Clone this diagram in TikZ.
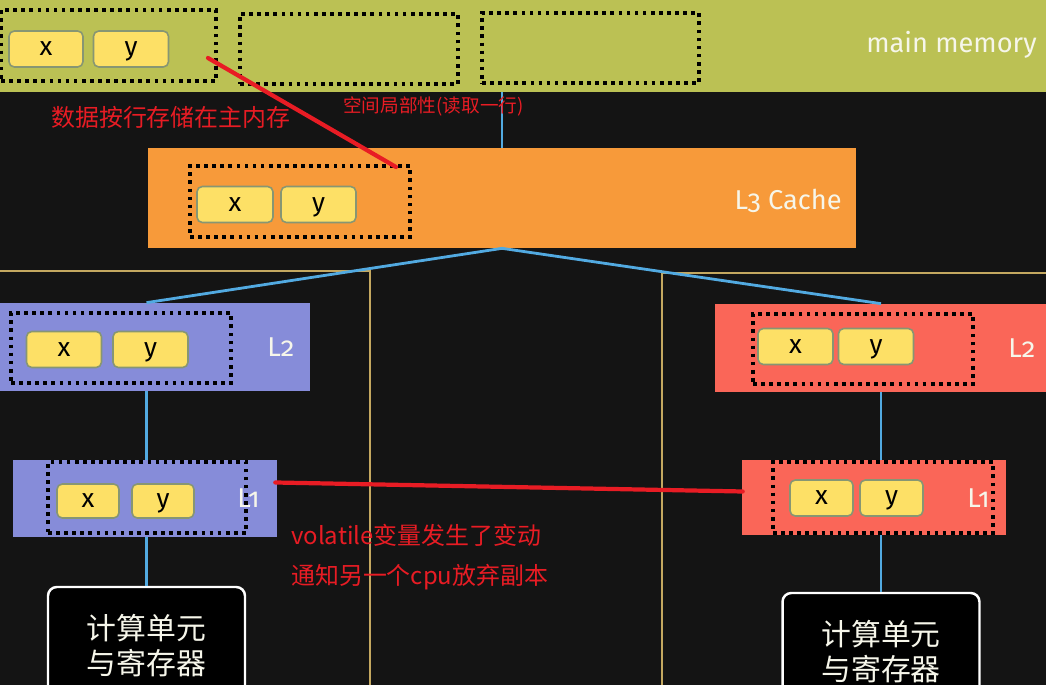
\documentclass[tikz,border=0pt]{standalone}
\usepackage{fontspec}
\setsansfont{Fira Sans}[Numbers=OldStyle]
\newfontfamily\cjk{Noto Sans CJK SC}
\usepackage{tikz}
\usetikzlibrary{positioning, calc}
\definecolor{board}{RGB}{20,20,20}
\definecolor{memgreen}{RGB}{187,193,84}
\definecolor{l3orange}{RGB}{247,154,58}
\definecolor{cpublue}{RGB}{134,140,217}
\definecolor{cpured}{RGB}{250,102,88}
\definecolor{cellfill}{RGB}{253,224,102}
\definecolor{celledge}{RGB}{135,150,115}
\definecolor{wireblue}{RGB}{82,170,225}
\definecolor{divgold}{RGB}{196,168,96}
\definecolor{notered}{RGB}{232,28,36}
\definecolor{labelwhite}{RGB}{246,246,234}

\begin{document}
\begin{tikzpicture}[
  x=0.02cm, y=-0.02cm,
  cachebox/.style={rectangle, inner sep=0pt},
  rowbox/.style={rectangle, draw=black, line width=2.1pt, dash pattern=on 2.1pt off 2.5pt, inner sep=0pt, minimum width=44mm, minimum height=14mm},
  cell/.style={rectangle, draw=celledge, line width=0.9pt, fill=cellfill, rounded corners=3pt, inner sep=0pt, minimum width=15mm, minimum height=7.2mm, text height=0.9em, text depth=0.14em, font=\sffamily\fontsize{15}{18}\selectfont, text=black},
  tag/.style={text=labelwhite, font=\sffamily\fontsize{15.5}{18}\selectfont, inner sep=0pt},
  core/.style={rectangle, draw=white, line width=1.4pt, rounded corners=5pt, fill=black, minimum width=39.4mm, minimum height=23.6mm, align=center, text=labelwhite, font=\cjk\fontsize{17}{20}\selectfont},
  wire/.style={draw=wireblue, line width=1.6pt},
  divider/.style={draw=divgold, line width=1pt},
  redline/.style={draw=notered, line width=2.4pt, line cap=round},
  note/.style={text=notered, font=\cjk\fontsize{13.6}{16}\selectfont, inner sep=0pt, anchor=west},
]
\clip (0,0) rectangle (1046,685);
\fill[board] (0,0) rectangle (1046,685);

\draw[divider] (0,271) -- (370,271) -- (370,690);
\draw[divider] (1046,273) -- (662,273) -- (662,690);

\node[cachebox, fill=memgreen, minimum width=209.2mm, minimum height=18.4mm] (mem) at (523,46) {};
\node[tag, anchor=base east] (memlabel) at (1037,53) {main memory};
\node[rowbox, minimum width=43mm, minimum height=14.2mm] (row1) at (108.5,45.5) {};
\node[rowbox, minimum width=43.6mm] (row2) at (349,49) {};
\node[rowbox, minimum width=43.4mm] (row3) at (590.5,48) {};
\node[cell, minimum width=14.8mm] (memx) at (46,49) {x};
\node[cell] (memy) at (131,49) {y};

\node[cachebox, fill=l3orange, minimum width=141.6mm, minimum height=20mm] (l3) at (502,198) {};
\node[tag, anchor=base east] (l3label) at (842,210) {L3 Cache};
\node[rowbox, minimum height=14.2mm] (l3row) at (300,201.5) {};
\node[cell, minimum width=15.2mm] (l3x) at (235,204.5) {x};
\node[cell] (l3y) at (318.5,204.5) {y};

\node[cachebox, fill=cpublue, minimum width=62mm, minimum height=17.6mm] (l2a) at (155,347) {};
\node[tag, anchor=base west] (l2alabel) at (267,357) {L2};
\node[rowbox] (l2arow) at (121,348) {};
\node[cell] (l2ax) at (64,349.5) {x};
\node[cell] (l2ay) at (150.5,349.5) {y};

\node[cachebox, fill=cpublue, minimum width=52.8mm, minimum height=15.4mm] (l1a) at (145,498.5) {};
\node[tag, anchor=base west] (l1alabel) at (237,508) {L1};
\node[rowbox, minimum width=39.6mm, minimum height=14.2mm] (l1arow) at (147,497.5) {};
\node[cell, minimum width=12.4mm, minimum height=6.8mm] (l1ax) at (88,501) {x};
\node[cell, minimum width=12.4mm, minimum height=6.8mm] (l1ay) at (163,501) {y};

\node[cachebox, fill=cpured, minimum width=66.2mm, minimum height=17.6mm] (l2b) at (880.5,348) {};
\node[tag, anchor=base west] (l2blabel) at (1008,358) {L2};
\node[rowbox] (l2brow) at (863,349) {};
\node[cell] (l2bx) at (795.5,346.5) {x};
\node[cell] (l2by) at (876,346.5) {y};

\node[cachebox, fill=cpured, minimum width=52.8mm, minimum height=15mm] (l1b) at (874,497.5) {};
\node[tag, anchor=base west] (l1blabel) at (967,508) {L1};
\node[rowbox, minimum height=14.2mm] (l1brow) at (883,497.5) {};
\node[cell, minimum width=12.6mm] (l1bx) at (821.5,498) {x};
\node[cell, minimum width=12.6mm] (l1by) at (891.5,498) {y};

\node[core] (cpua) at (146.5,646) {计算单元\\与寄存器};
\node[core] (cpub) at (881,652) {计算单元\\与寄存器};

\draw[wire] (l3.north) -- (l3.north |- mem.south);
\draw[wire] (l3.south) -- (cpua.north |- l2a.north);
\draw[wire] (l3.south) -- (cpub.north |- l2b.north);
\draw[wire] (cpua.north |- l2a.south) -- (cpua.north |- l1a.north);
\draw[wire] (cpua.north |- l1a.south) -- (cpua.north);
\draw[wire] (cpub.north |- l2b.south) -- (cpub.north |- l1b.north);
\draw[wire] (cpub.north |- l1b.south) -- (cpub.north);

\node[note] (rownote) at (51,117) {数据按行存储在主内存};
\node[note, font=\cjk\fontsize{10.6}{13}\selectfont] (localnote) at (343,106) {空间局部性(读取一行)};
\node[note] (volnote) at (291,535) {volatile变量发生了变动};
\node[note] (cpunote) at (291,577) {通知另一个cpu放弃副本};

\coordinate (rowmark) at (208,58);
\coordinate (cachemark) at (396,167);
\draw[redline] (rowmark) -- (cachemark);
\draw[redline] ($(l1a.east)+(-2,-16)$) -- ($(l1b.west)+(1,-6)$);
\end{tikzpicture}
\end{document}
